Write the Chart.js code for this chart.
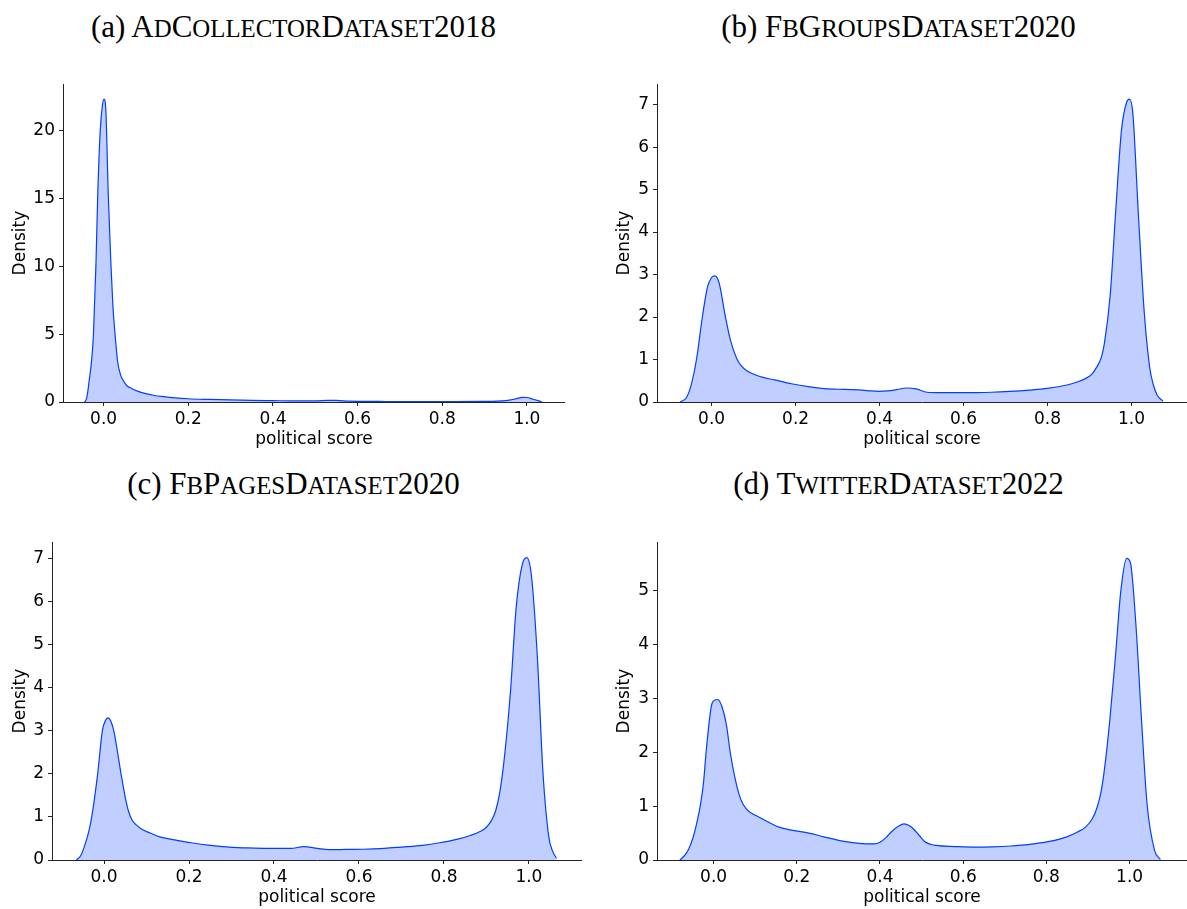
<!DOCTYPE html>
<html>
<head>
<meta charset="utf-8">
<script src="https://cdn.jsdelivr.net/npm/chart.js@4/dist/chart.umd.min.js"></script>
<style>
    body { margin: 0; background: #fff; width: 1187px; height: 909px; position: relative; overflow: hidden; }
    canvas { position: absolute; }
    .cap { position: absolute; font-family: 'Liberation Serif', 'Times New Roman', serif; font-size: 31px; line-height: 31px; text-align: center; color: #000; white-space: nowrap; }
    .s { text-transform: uppercase; font-size: 0.8em; }
</style>
</head>
<body>
<div class="cap" style="left:0px;width:587px;top:11px">(a) A<span class="s">d</span>C<span class="s">ollector</span>D<span class="s">ataset</span>2018</div>
<div class="cap" style="left:605px;width:587px;top:11px">(b) F<span class="s">b</span>G<span class="s">roups</span>D<span class="s">ataset</span>2020</div>
<div class="cap" style="left:0px;width:587px;top:468px">(c) F<span class="s">b</span>P<span class="s">ages</span>D<span class="s">ataset</span>2020</div>
<div class="cap" style="left:605px;width:587px;top:468px">(d) T<span class="s">witter</span>D<span class="s">ataset</span>2022</div>

<canvas id="chartA" width="565" height="380" style="left:0px;top:70px"></canvas>
<canvas id="chartB" width="587" height="380" style="left:600px;top:70px"></canvas>
<canvas id="chartC" width="582" height="380" style="left:0px;top:528px"></canvas>
<canvas id="chartD" width="587" height="380" style="left:600px;top:528px"></canvas>

<script>
// (a) AdCollectorDataset2018
const scoreA = [-0.045, -0.04, -0.034, -0.028, -0.024, -0.018, -0.014, -0.008, -0.003, 0.001, 0.005, 0.011, 0.017, 0.022, 0.027, 0.033, 0.04, 0.046, 0.055, 0.066, 0.08, 0.097, 0.12, 0.144, 0.17, 0.2, 0.25, 0.3, 0.35, 0.4, 0.45, 0.5, 0.53, 0.55, 0.58, 0.65, 0.7, 0.8, 0.9, 0.95, 0.97, 0.99, 1.0, 1.015, 1.035];
const densityA = [0, 0.3, 1.6, 3.2, 5, 10.3, 15.2, 20, 21.8, 22.3, 21.6, 15.2, 10.3, 7, 5, 3, 2.0, 1.6, 1.2, 1.0, 0.8, 0.63, 0.48, 0.39, 0.3, 0.24, 0.19, 0.15, 0.12, 0.1, 0.08, 0.08, 0.12, 0.12, 0.06, 0.04, 0.03, 0.03, 0.04, 0.1, 0.2, 0.34, 0.33, 0.2, 0.02];

// (b) FbGroupsDataset2020
const scoreB = [-0.075, -0.06, -0.05, -0.036, -0.022, -0.01, 0.0, 0.008, 0.018, 0.033, 0.045, 0.06, 0.07, 0.083, 0.118, 0.15, 0.19, 0.23, 0.262, 0.3, 0.334, 0.37, 0.397, 0.42, 0.44, 0.464, 0.487, 0.513, 0.545, 0.576, 0.62, 0.666, 0.71, 0.756, 0.8, 0.846, 0.87, 0.89, 0.905, 0.917, 0.928, 0.935, 0.949, 0.962, 0.976, 0.988, 0.995, 1.003, 1.016, 1.03, 1.043, 1.052, 1.061, 1.075];
const densityB = [0, 0.1, 0.35, 1.0, 2.0, 2.7, 2.93, 2.97, 2.8, 2.0, 1.45, 1.02, 0.86, 0.74, 0.59, 0.52, 0.43, 0.36, 0.32, 0.3, 0.29, 0.27, 0.25, 0.26, 0.29, 0.33, 0.31, 0.23, 0.22, 0.22, 0.22, 0.23, 0.25, 0.28, 0.32, 0.4, 0.47, 0.55, 0.65, 0.82, 1.05, 1.36, 2.5, 4.46, 6.4, 7.05, 7.13, 6.8, 4.46, 2.14, 0.82, 0.4, 0.16, 0.02];

// (c) FbPagesDataset2020
const scoreC = [-0.065, -0.055, -0.045, -0.035, -0.029, -0.015, -0.004, 0.004, 0.01, 0.016, 0.023, 0.04, 0.05, 0.058, 0.066, 0.075, 0.088, 0.11, 0.133, 0.17, 0.205, 0.25, 0.295, 0.34, 0.385, 0.44, 0.47, 0.502, 0.529, 0.57, 0.61, 0.66, 0.7, 0.75, 0.79, 0.83, 0.862, 0.885, 0.9, 0.912, 0.922, 0.932, 0.943, 0.957, 0.97, 0.984, 0.995, 1.006, 1.02, 1.033, 1.047, 1.056, 1.065];
const densityC = [0, 0.1, 0.35, 0.7, 1.0, 2.0, 3.0, 3.25, 3.3, 3.22, 3.0, 2.0, 1.45, 1.12, 0.93, 0.82, 0.72, 0.62, 0.53, 0.46, 0.4, 0.34, 0.3, 0.28, 0.27, 0.27, 0.31, 0.27, 0.24, 0.245, 0.25, 0.27, 0.3, 0.34, 0.4, 0.48, 0.57, 0.66, 0.76, 0.92, 1.15, 1.6, 2.44, 3.96, 5.86, 6.85, 7.02, 6.6, 4.7, 2.05, 0.53, 0.2, 0.04];

// (d) TwitterDataset2022
const scoreD = [-0.081, -0.07, -0.06, -0.05, -0.04, -0.031, -0.024, -0.018, -0.004, 0.004, 0.01, 0.02, 0.031, 0.04, 0.052, 0.062, 0.072, 0.085, 0.103, 0.13, 0.157, 0.19, 0.229, 0.265, 0.31, 0.35, 0.385, 0.4, 0.415, 0.427, 0.445, 0.458, 0.47, 0.48, 0.495, 0.508, 0.535, 0.58, 0.625, 0.67, 0.714, 0.76, 0.804, 0.849, 0.875, 0.894, 0.91, 0.922, 0.931, 0.939, 0.952, 0.966, 0.979, 0.993, 1.002, 1.015, 1.029, 1.042, 1.06, 1.074];
const densityD = [0, 0.08, 0.2, 0.4, 0.7, 1.05, 1.45, 2.0, 2.9, 2.97, 2.98, 2.85, 2.5, 2.0, 1.5, 1.2, 1.02, 0.9, 0.82, 0.71, 0.61, 0.55, 0.5, 0.43, 0.35, 0.31, 0.3, 0.33, 0.42, 0.52, 0.63, 0.67, 0.64, 0.58, 0.45, 0.34, 0.27, 0.25, 0.24, 0.245, 0.26, 0.29, 0.34, 0.43, 0.52, 0.61, 0.76, 0.98, 1.25, 1.65, 2.56, 3.78, 5.0, 5.6, 5.52, 4.39, 2.56, 1.04, 0.18, 0.01];

const xTickStep = 0.2;
const xLabel = 'political score';
const yLabel = 'Density';

const lineColor = '#023eff';
const fillColor = 'rgba(2, 62, 255, 0.25)';
const axisColor = '#222';
const tickFont = { family: 'DejaVu Sans', size: 17 };

function renderChart(id, xs, ys, opts) {
    const ctx = document.getElementById(id).getContext('2d');
    const points = xs.map((x, i) => ({ x: x, y: ys[i] }));
    new Chart(ctx, {
        type: 'line',
        data: {
            datasets: [{
                data: points,
                borderColor: lineColor,
                backgroundColor: fillColor,
                borderWidth: 1.2,
                pointRadius: 0,
                fill: 'origin',
                cubicInterpolationMode: 'monotone'
            }]
        },
        options: {
            responsive: false,
            animation: false,
            layout: { padding: { top: 10, right: 0, left: 0, bottom: 0 } },
            plugins: {
                legend: { display: false },
                tooltip: { enabled: false }
            },
            scales: {
                x: {
                    type: 'linear',
                    min: opts.xMin,
                    max: opts.xMax,
                    afterFit: s => { s.height = 48; },
                    grid: { drawOnChartArea: false, drawTicks: true, tickLength: 4, color: axisColor, lineWidth: 1 },
                    border: { display: true, color: axisColor, width: 1 },
                    ticks: {
                        stepSize: xTickStep,
                        includeBounds: false,
                        padding: 3,
                        maxRotation: 0,
                        color: '#000',
                        font: tickFont,
                        callback: v => v.toFixed(1)
                    },
                    title: { display: true, text: xLabel, color: '#000', font: tickFont, padding: { top: 0, bottom: 0 } }
                },
                y: {
                    min: 0,
                    max: opts.yMax,
                    afterFit: s => { s.width = opts.yWidth; },
                    grid: { drawOnChartArea: false, drawTicks: true, tickLength: 4, color: axisColor, lineWidth: 1 },
                    border: { display: true, color: axisColor, width: 1 },
                    ticks: {
                        stepSize: opts.yStep,
                        includeBounds: false,
                        padding: 4,
                        color: '#000',
                        font: tickFont
                    },
                    title: { display: true, text: yLabel, color: '#000', font: tickFont, padding: { top: opts.titlePad, bottom: 0 } }
                }
            }
        }
    });
}

renderChart('chartA', scoreA, densityA, { xMin: -0.096, xMax: 1.09, yMax: 23.4, yStep: 5, yWidth: 63, titlePad: 10 });
renderChart('chartB', scoreB, densityB, { xMin: -0.13, xMax: 1.132, yMax: 7.48, yStep: 1, yWidth: 57, titlePad: 14 });
renderChart('chartC', scoreC, densityC, { xMin: -0.1225, xMax: 1.125, yMax: 7.38, yStep: 1, yWidth: 52, titlePad: 10 });
renderChart('chartD', scoreD, densityD, { xMin: -0.136, xMax: 1.138, yMax: 5.9, yStep: 1, yWidth: 57, titlePad: 14 });
</script>
</body>
</html>
